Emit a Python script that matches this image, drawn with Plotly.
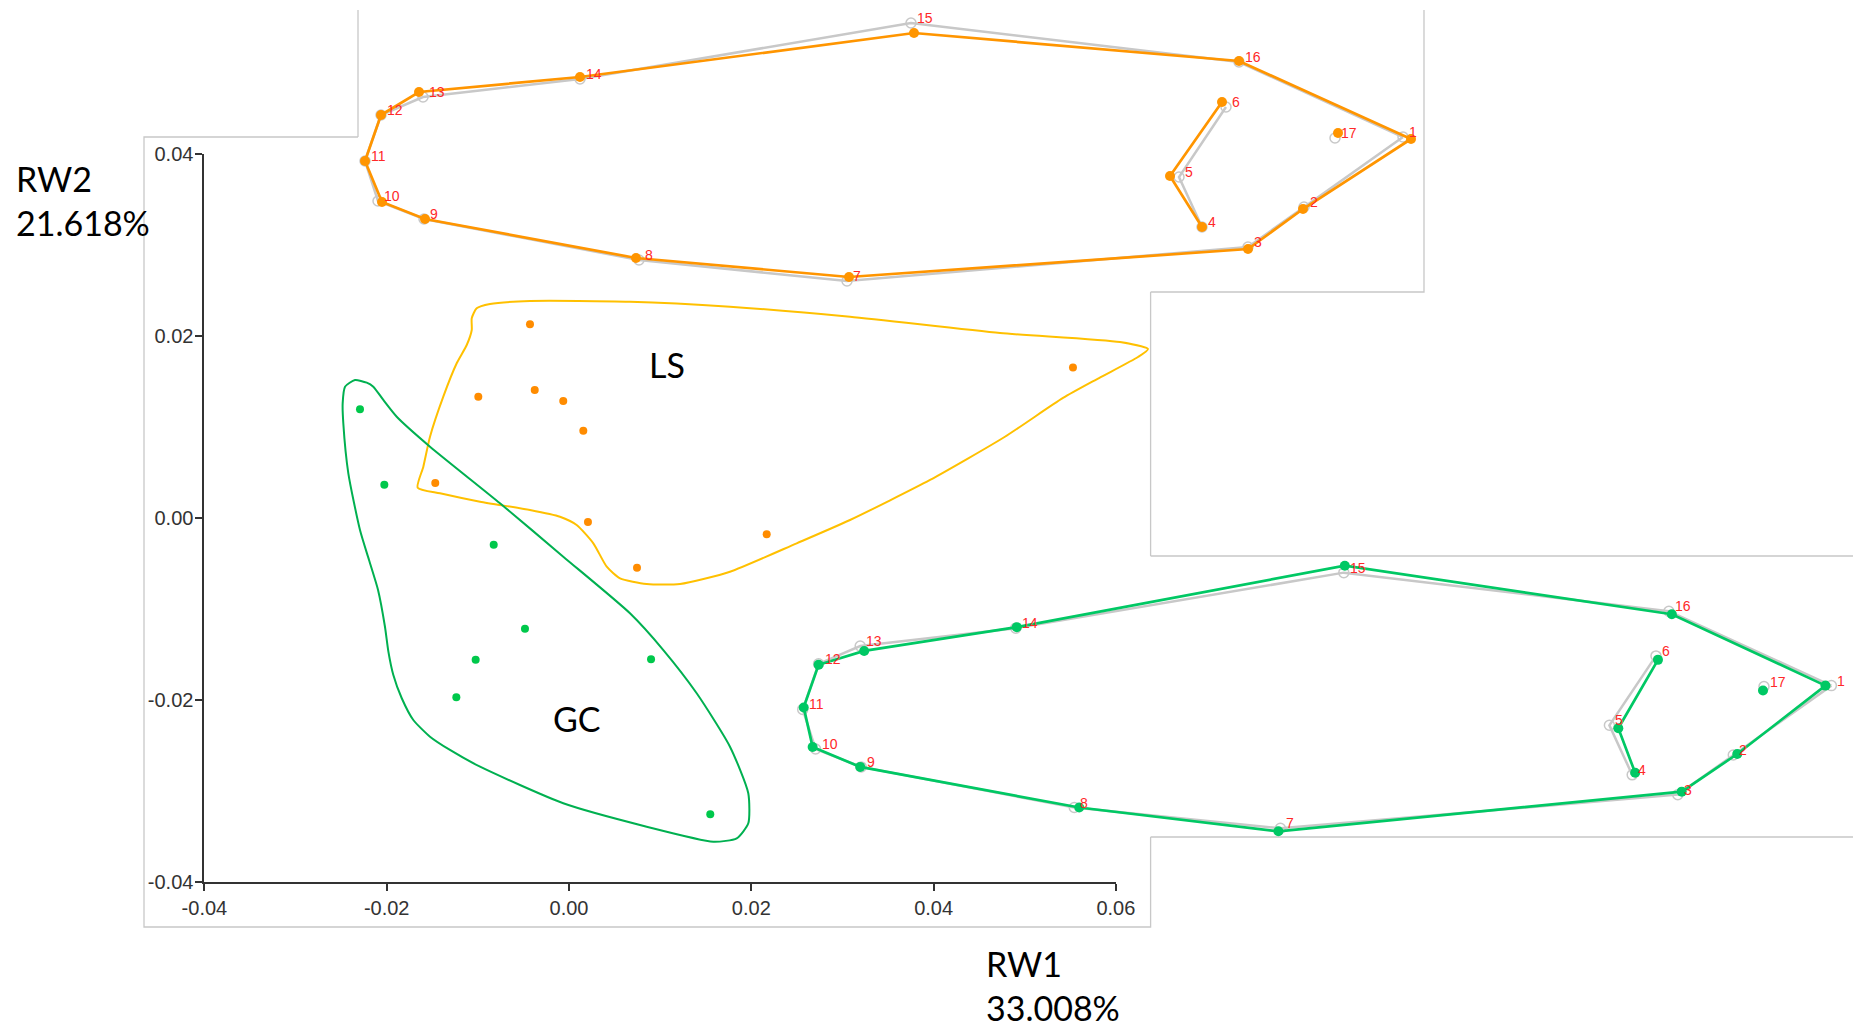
import plotly.graph_objects as go

W, H = 1853, 1029

# ---------------- main scatter (RW1 vs RW2) ----------------
ls_x = [-0.00428, -0.00995, -0.00376, -0.00063, 0.00157, -0.01467, 0.00208, 0.00746, 0.02169, 0.05529]
ls_y = [0.02129, 0.01333, 0.01407, 0.01286, 0.00959, 0.00385, -0.00044, -0.00546, -0.00179, 0.01654]
gc_x = [-0.02293, -0.02026, -0.00826, -0.00483, -0.01024, 0.00900, -0.01236, 0.01550]
gc_y = [0.01195, 0.00366, -0.00293, -0.01216, -0.01557, -0.01553, -0.01970, -0.03256]

# hand-drawn group outlines
ls_hull_x = [-0.01660, -0.01598, -0.01525, -0.01379, -0.01232, -0.01122, -0.01067, -0.01067, -0.01013,
             -0.00867, -0.00428, 0.00669, 0.01766, 0.03083, 0.04729, 0.06045, 0.06352, 0.06242, 0.05815,
             0.05420, 0.04778, 0.03961, 0.03083, 0.02498, 0.01766, 0.01218, 0.00852, 0.00560, 0.00414,
             0.00267, 0.00084, -0.00099, -0.00428, -0.00976, -0.01415, -0.01660]
ls_hull_y = [0.00333, 0.00564, 0.00893, 0.01333, 0.01700, 0.01901, 0.02066, 0.02195, 0.02304,
             0.02352, 0.02385, 0.02377, 0.02322, 0.02212, 0.02033, 0.01934, 0.01857, 0.01769, 0.01538,
             0.01319, 0.00890, 0.00418, -0.00022, -0.00278, -0.00590, -0.00725, -0.00725, -0.00663, -0.00535,
             -0.00278, -0.00077, 0.00014, 0.00088, 0.00179, 0.00271, 0.00333]
gc_hull_x = [-0.02348, -0.02219, -0.02147, -0.02037, -0.01890, -0.01525, -0.00757, -0.00063, 0.00669,
             0.01035, 0.01401, 0.01766, 0.01967, 0.01967, 0.01840, 0.01583, 0.00852, -0.00063, -0.00976,
             -0.01306, -0.01525, -0.01708, -0.01836, -0.01928, -0.01982, -0.02019, -0.02095, -0.02194,
             -0.02293, -0.02421, -0.02476, -0.02483, -0.02457, -0.02348]
gc_hull_y = [0.01516, 0.01487, 0.01443, 0.01297, 0.01113, 0.00784, 0.00162, -0.00425, -0.01047,
             -0.01451, -0.01926, -0.02513, -0.03025, -0.03355, -0.03520, -0.03557, -0.03392, -0.03135, -0.02733,
             -0.02549, -0.02403, -0.02220, -0.01978, -0.01722, -0.01465, -0.01195, -0.00791, -0.00462,
             -0.00132, 0.00491, 0.01041, 0.01260, 0.01443, 0.01516]

x_ticks = [-0.04, -0.02, 0.00, 0.02, 0.04, 0.06]
y_ticks = [-0.04, -0.02, 0.00, 0.02, 0.04]
x_title = "RW1<br>33.008%"
y_title = "RW2<br>21.618%"
group_names = ["LS", "GC"]

# ---------------- landmark configurations ----------------
landmark_ids = list(range(1, 18))
consensus_x = [0.513, 0.414, 0.358, 0.312, 0.289, 0.336, -0.043, -0.251, -0.466, -0.512, -0.525, -0.509,
               -0.467, -0.310, 0.021, 0.349, 0.445]
consensus_y = [0.013, -0.057, -0.097, -0.077, -0.027, 0.043, -0.131, -0.110, -0.069, -0.051, -0.011, 0.035,
               0.053, 0.071, 0.127, 0.088, 0.012]
ls_shape_x = [0.521, 0.413, 0.358, 0.312, 0.280, 0.332, -0.041, -0.254, -0.465, -0.508, -0.525, -0.509,
              -0.471, -0.310, 0.024, 0.349, 0.448]
ls_shape_y = [0.011, -0.059, -0.099, -0.077, -0.026, 0.048, -0.127, -0.108, -0.069, -0.052, -0.011, 0.035,
              0.058, 0.073, 0.117, 0.089, 0.017]
gc_shape_x = [0.507, 0.418, 0.362, 0.315, 0.298, 0.338, -0.045, -0.246, -0.467, -0.515, -0.524, -0.509,
              -0.463, -0.309, 0.022, 0.352, 0.444]
gc_shape_y = [0.013, -0.056, -0.094, -0.075, -0.030, 0.039, -0.134, -0.110, -0.069, -0.049, -0.009, 0.034,
              0.048, 0.072, 0.134, 0.085, 0.008]
outline_order = [1, 2, 3, 7, 8, 9, 10, 11, 12, 13, 14, 15, 16, 1]
inner_order = [4, 5, 6]

# ---------------- styles ----------------
ORANGE_DOT = "#FF8C00"
GREEN_DOT = "#00C84B"
LS_HULL = "#FFC000"
GC_HULL = "#00B050"
WIRE_OR = "#FF9500"
WIRE_GR = "#00C864"
GRAY = "#C8C8C8"
FRAME = "#C8C8C8"


def fx(px):
    return px / W


def fy(py):
    return 1 - py / H


# main axes pixel calibration
AX_X0, AX_X1 = 204.4, 1115.9   # pixel of x=-0.04 and x=0.06
AX_Y0, AX_Y1 = 882.0, 154.0    # pixel of y=-0.04 and y=0.04
XMIN, XMAX, YMIN, YMAX = -0.04, 0.06, -0.04, 0.04


def dx(px):
    return XMIN + (px - AX_X0) * (XMAX - XMIN) / (AX_X1 - AX_X0)


def dy(py):
    return YMIN + (AX_Y0 - py) * (YMAX - YMIN) / (AX_Y0 - AX_Y1)


FRAME_L, FRAME_T, FRAME_R, FRAME_B = 144.0, 137.0, 1150.6, 927.0

fig = go.Figure()

# hulls on overlay axes (x2,y2) spanning the whole frame
fig.add_trace(go.Scatter(x=ls_hull_x, y=ls_hull_y, mode="lines", xaxis="x2", yaxis="y2",
                         line=dict(color=LS_HULL, width=2, shape="spline", smoothing=0.6),
                         hoverinfo="skip"))
fig.add_trace(go.Scatter(x=gc_hull_x, y=gc_hull_y, mode="lines", xaxis="x2", yaxis="y2",
                         line=dict(color=GC_HULL, width=2, shape="spline", smoothing=0.6),
                         hoverinfo="skip"))
# points
fig.add_trace(go.Scatter(x=ls_x, y=ls_y, mode="markers", xaxis="x", yaxis="y", cliponaxis=False,
                         marker=dict(color=ORANGE_DOT, size=8), name="LS"))
fig.add_trace(go.Scatter(x=gc_x, y=gc_y, mode="markers", xaxis="x", yaxis="y", cliponaxis=False,
                         marker=dict(color=GREEN_DOT, size=8), name="GC"))


def pick(arr, order):
    return [arr[i - 1] for i in order]


def add_wire(xs, ys, color, xa, ya):
    # consensus (gray)
    for order in (outline_order, inner_order):
        fig.add_trace(go.Scatter(x=pick(consensus_x, order), y=pick(consensus_y, order), mode="lines",
                                 xaxis=xa, yaxis=ya, line=dict(color=GRAY, width=2.5), hoverinfo="skip"))
    fig.add_trace(go.Scatter(x=consensus_x, y=consensus_y, mode="markers", xaxis=xa, yaxis=ya,
                             cliponaxis=False,
                             marker=dict(symbol="circle-open", size=10, color=GRAY, line=dict(width=1.5)),
                             hoverinfo="skip"))
    for order in (outline_order, inner_order):
        fig.add_trace(go.Scatter(x=pick(xs, order), y=pick(ys, order), mode="lines",
                                 xaxis=xa, yaxis=ya, line=dict(color=color, width=2.7), hoverinfo="skip"))
    fig.add_trace(go.Scatter(x=xs, y=ys, mode="markers", xaxis=xa, yaxis=ya, cliponaxis=False,
                             marker=dict(size=10, color=color), hoverinfo="skip"))


add_wire(ls_shape_x, ls_shape_y, WIRE_OR, "x3", "y3")
add_wire(gc_shape_x, gc_shape_y, WIRE_GR, "x4", "y4")

annotations = []
for xa, ya in (("x3", "y3"), ("x4", "y4")):
    for i, lx, ly in zip(landmark_ids, consensus_x, consensus_y):
        annotations.append(dict(x=lx, y=ly, xref=xa, yref=ya, text=str(i), showarrow=False,
                                xanchor="left", yanchor="middle", xshift=4, yshift=5,
                                font=dict(family="Liberation Sans, Arial", size=14, color="#FF2828")))

# group labels
annotations.append(dict(x=dx(666.7), y=dy(365), xref="x", yref="y", text=group_names[0], showarrow=False,
                        font=dict(family="Lato", size=34, color="black")))
annotations.append(dict(x=dx(576.7), y=dy(718.3), xref="x", yref="y", text=group_names[1], showarrow=False,
                        font=dict(family="Lato", size=34, color="black")))
# axis titles
annotations.append(dict(x=fx(14), y=fy(156), xref="paper", yref="paper", text=y_title, showarrow=False,
                        xanchor="left", yanchor="top", align="left",
                        font=dict(family="Lato", size=34, color="black")))
annotations.append(dict(x=fx(984), y=fy(941), xref="paper", yref="paper", text=x_title, showarrow=False,
                        xanchor="left", yanchor="top", align="left",
                        font=dict(family="Lato", size=34, color="black")))


def seg(points):
    s = ""
    for k, (px, py) in enumerate(points):
        s += ("M" if k == 0 else "L") + f"{fx(px):.5f},{fy(py):.5f} "
    return s


frame_path = (
    seg([(358, FRAME_T), (FRAME_L, FRAME_T), (FRAME_L, FRAME_B), (FRAME_R, FRAME_B), (FRAME_R, 837)])
    + seg([(FRAME_R, 556), (FRAME_R, 292)])
    + seg([(358, 10), (358, FRAME_T)])
    + seg([(1424, 10), (1424, 292), (FRAME_R, 292)])
    + seg([(W, 556), (FRAME_R, 556)])
    + seg([(FRAME_R, 837), (W, 837)])
)
shapes = [dict(type="path", path=frame_path, xref="paper", yref="paper",
               line=dict(color=FRAME, width=1.3), layer="below")]

tick_font = dict(family="Liberation Sans, Arial", size=20, color="#333333")
axis_common = dict(showline=True, linecolor="#333333", linewidth=2, ticks="outside", ticklen=7,
                   tickwidth=2, tickcolor="#333333", showgrid=False, zeroline=False, tickfont=tick_font,
                   fixedrange=True, automargin=False)

# top inset calibration (pixels)
T_L, T_R, T_T, T_B = 358.0, 1424.0, 10.0, 292.0
T_OX, T_OY, T_S = 890.0, 150.0, 1000.0
# bottom inset calibration
B_L, B_R, B_T, B_B = 790.0, 1853.0, 556.0, 837.0
B_OX, B_OY, B_S = 1323.0, 698.5, 991.0

hidden = dict(visible=False, fixedrange=True, automargin=False)

fig.update_layout(
    width=W, height=H, autosize=False,
    margin=dict(l=0, r=0, t=0, b=0, pad=0, autoexpand=False),
    paper_bgcolor="white", plot_bgcolor="rgba(0,0,0,0)",
    showlegend=False,
    xaxis=dict(domain=[fx(AX_X0), fx(AX_X1)], range=[XMIN, XMAX], tickvals=x_ticks,
               ticktext=[f"{v:.2f}" for v in x_ticks], anchor="y", **axis_common),
    yaxis=dict(domain=[fy(AX_Y0), fy(AX_Y1)], range=[YMIN, YMAX], tickvals=y_ticks,
               ticktext=[f"{v:.2f}" for v in y_ticks], anchor="x", ticklabelstandoff=-2, **axis_common),
    xaxis2=dict(domain=[fx(FRAME_L), fx(FRAME_R)], range=[dx(FRAME_L), dx(FRAME_R)], anchor="y2", **hidden),
    yaxis2=dict(domain=[fy(FRAME_B), fy(FRAME_T)], range=[dy(FRAME_B), dy(FRAME_T)], anchor="x2", **hidden),
    xaxis3=dict(domain=[fx(T_L), fx(T_R)], range=[(T_L - T_OX) / T_S, (T_R - T_OX) / T_S], anchor="y3", **hidden),
    yaxis3=dict(domain=[fy(T_B), fy(T_T)], range=[(T_OY - T_B) / T_S, (T_OY - T_T) / T_S], anchor="x3", **hidden),
    xaxis4=dict(domain=[fx(B_L), fx(B_R)], range=[(B_L - B_OX) / B_S, (B_R - B_OX) / B_S], anchor="y4", **hidden),
    yaxis4=dict(domain=[fy(B_B), fy(B_T)], range=[(B_OY - B_B) / B_S, (B_OY - B_T) / B_S], anchor="x4", **hidden),
    annotations=annotations,
    shapes=shapes,
)

fig.write_html("out.html")
